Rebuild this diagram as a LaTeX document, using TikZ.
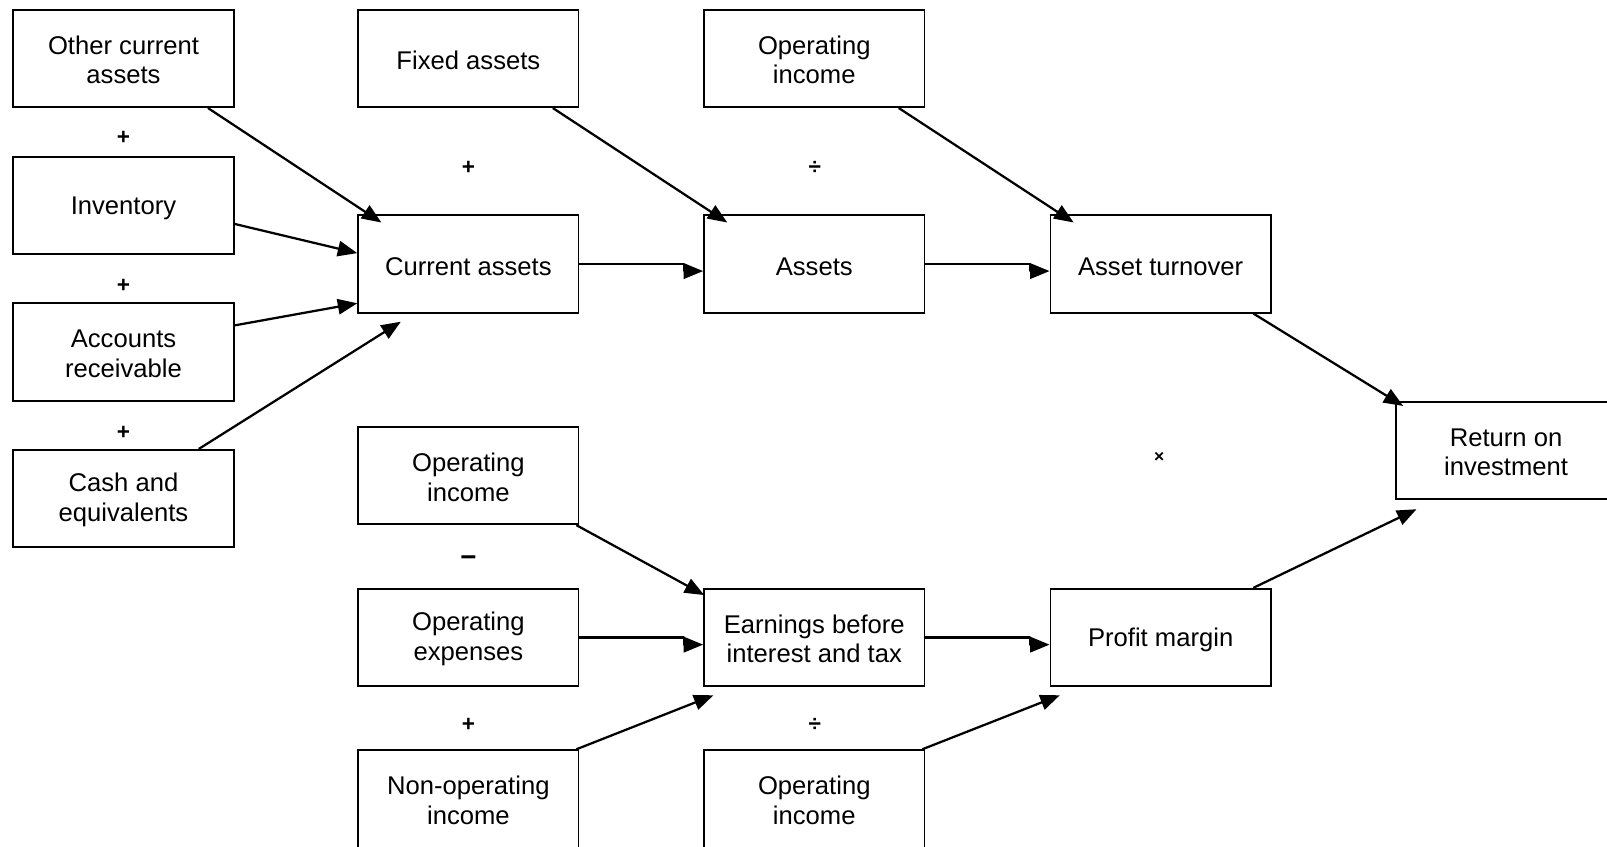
\documentclass[tikz,border=0pt]{standalone}
\usepackage{fontspec}
\setmainfont{Liberation Sans}
\usetikzlibrary{arrows.meta}
\begin{document}
\begin{tikzpicture}[x=1pt,y=-1pt,
  box/.style={draw, line width=1.8pt, minimum width=215pt, minimum height=95pt, inner sep=0pt, align=center, font=\fontsize{25}{29}\selectfont},
  conn/.style={line width=2.2pt, -{Triangle[length=19pt,width=15pt]}, line join=round},
  opsym/.style={font=\fontsize{22}{26}\selectfont\bfseries, inner sep=0pt},
  smallsym/.style={font=\fontsize{17}{20}\selectfont\bfseries, inner sep=0pt}]
\useasboundingbox (0,0) rectangle (1568,826);
\begin{scope}
\clip (0,0) rectangle (1568,826);
% left column
\node[box] (oca)  at (120.5,57)    {\rule{0pt}{21pt}Other current\\assets};
\node[box] (inv)  at (120.5,200.5) {\rule{0pt}{22pt}Inventory};
\node[box] (ar)   at (120.5,343.5) {\rule{0pt}{21pt}Accounts\\receivable};
\node[box] (cash) at (120.5,486.5) {\rule{0pt}{21pt}Cash and\\equivalents};
% second column
\node[box] (fa)    at (457,57)    {\rule{0pt}{22pt}Fixed assets};
\node[box] (ca)    at (457,257.5) {\rule{0pt}{22pt}Current assets};
\node[box] (oi2)   at (457,464)   {\rule{0pt}{21pt}Operating\\income};
\node[box] (opex)  at (457,622)   {\rule{0pt}{21pt}Operating\\expenses};
\node[box] (nonop) at (457,779.5) {\rule{0pt}{21pt}Non-operating\\income};
% third column
\node[box] (oi1)    at (794.5,57)    {\rule{0pt}{21pt}Operating\\income};
\node[box] (assets) at (794.5,257.5) {\rule{0pt}{22pt}Assets};
\node[box] (ebit)   at (794.5,622)   {\rule{0pt}{21pt}Earnings before\\interest and tax};
\node[box] (oi3)    at (794.5,779.5) {\rule{0pt}{21pt}Operating\\income};
% fourth column
\node[box] (at) at (1132.5,257.5) {\rule{0pt}{22pt}Asset turnover};
\node[box] (pm) at (1132.5,622)   {\rule{0pt}{22pt}Profit margin};
% fifth
\node[box] (roi) at (1469.5,439.5) {\rule{0pt}{21pt}Return on\\investment};

% operators
\node[opsym] (p1) at (120.5,135) {+};
\node[opsym] (p2) at (120.5,279) {+};
\node[opsym] (p3) at (120.5,422) {+};
\node[opsym] (p4) at (457,164) {+};
\node[opsym] (d1) at (795,164) {÷};
\node[smallsym] (m1) at (1131,446) {×};
\node[opsym, font=\fontsize{27}{30}\selectfont\bfseries] (mi) at (457,548) {−};
\node[opsym] (p5) at (457,707) {+};
\node[opsym] (d2) at (795,707) {÷};

% connectors into current assets
\draw[conn] ([xshift=-26pt]oca.south east) -- ([xshift=23.5pt,yshift=-8pt]ca.north west);
\draw[conn] ([yshift=-18pt]inv.east) -- ([yshift=10.5pt]ca.west);
\draw[conn] ([yshift=26pt]ar.east) -- ([yshift=10pt]ca.south west);
\draw[conn] ([xshift=-35pt]cash.north east) -- ([xshift=42.5pt,yshift=-8pt]ca.south west);
% upper chain
\draw[conn] (ca.east) -- ([xshift=-19pt]ca.east -| assets.west) -- ++(0,7) -- ([yshift=-7pt]assets.west);
\draw[conn] ([xshift=-26pt]fa.south east) -- ([xshift=23.5pt,yshift=-8pt]assets.north west);
\draw[conn] (assets.east) -- ([xshift=-19pt]assets.east -| at.west) -- ++(0,7) -- ([yshift=-7pt]at.west);
\draw[conn] ([xshift=-26pt]oi1.south east) -- ([xshift=23.5pt,yshift=-8pt]at.north west);
\draw[conn] ([xshift=-18pt]at.south east) -- ([xshift=8pt,yshift=-5pt]roi.north west);
% lower chain
\draw[conn] ([xshift=-3pt]oi2.south east) -- ([xshift=1pt,yshift=-7pt]ebit.north west);
\draw[conn] (opex.east) -- ([xshift=-19pt]opex.east -| ebit.west) -- ++(0,7) -- ([yshift=-7pt]ebit.west);
\draw[conn] ([xshift=-3pt]nonop.north east) -- ([xshift=10pt,yshift=-8pt]ebit.south west);
\draw[conn] (ebit.east) -- ([xshift=-19pt]ebit.east -| pm.west) -- ++(0,7) -- ([yshift=-7pt]pm.west);
\draw[conn] ([xshift=-3pt]oi3.north east) -- ([xshift=10pt,yshift=-8pt]pm.south west);
\draw[conn] ([xshift=-18pt]pm.north east) -- ([xshift=21pt,yshift=-9pt]roi.south west);
\end{scope}
\end{tikzpicture}
\end{document}
